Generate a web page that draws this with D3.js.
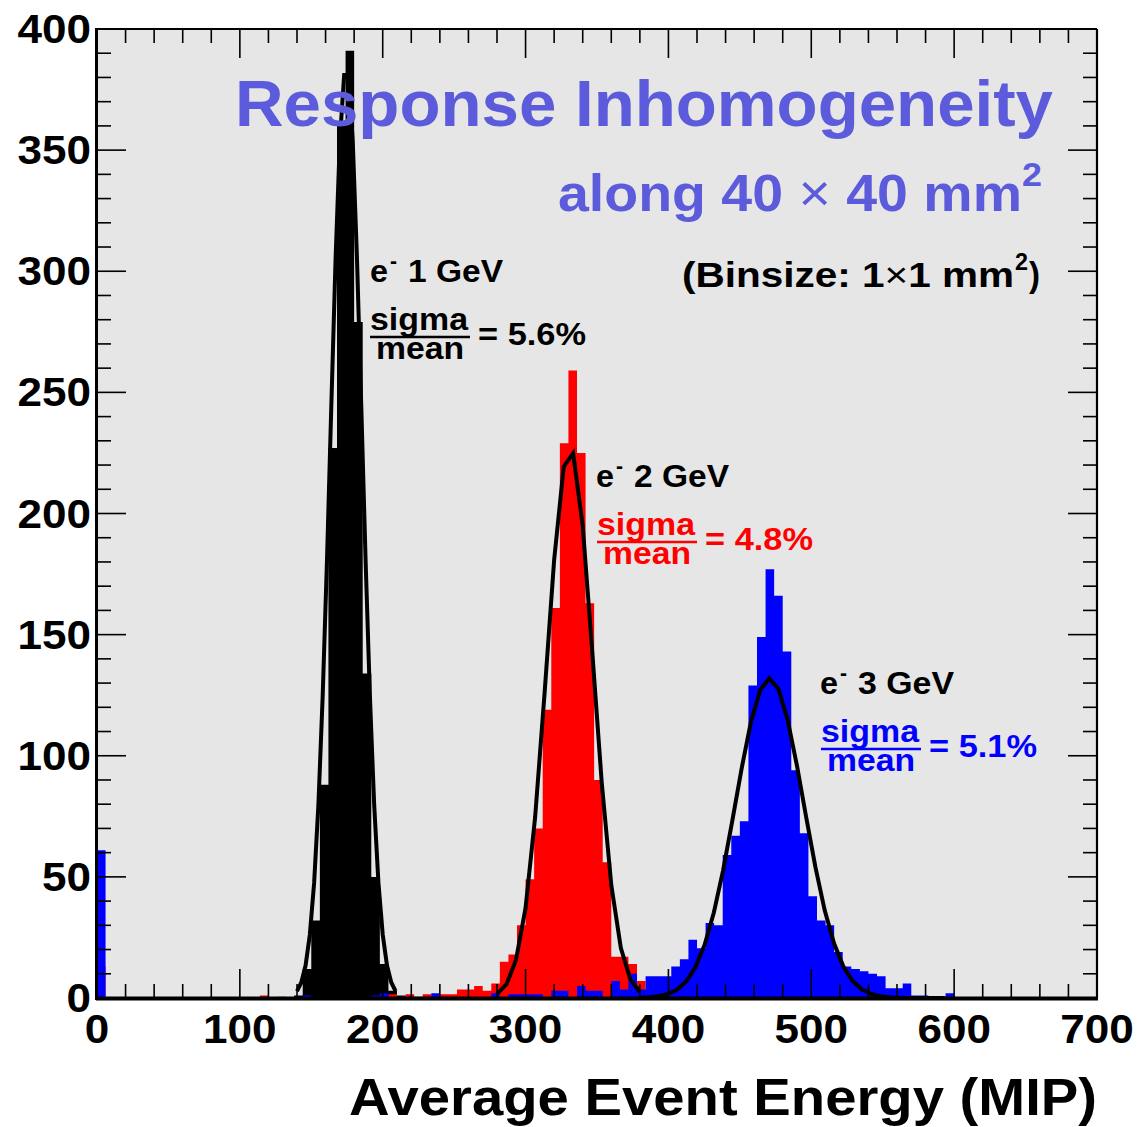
<!DOCTYPE html>
<html>
<head>
<meta charset="utf-8">
<script src="https://cdn.jsdelivr.net/npm/d3@7"></script>
<style>
  html, body { margin: 0; padding: 0; background: #ffffff; }
  svg { display: block; }
  text { font-family: "Liberation Sans", Arial, Helvetica, sans-serif; font-weight: bold; }
</style>
</head>
<body>
<svg id="chart" width="1138" height="1127"></svg>
<script>
// ---------------- DATA ----------------
const binWidth = 6; // MIP per bin, 100 bins from 0 to 600

const blackCounts = [
  0,0,0,0,0,0,0,0,0,0,
  0,0,0,0,0,0,0,0,0,0,
  0,0,0,1,12,32,88,227,362,391,
  279,134,50,14,3,1,0,0,0,0,
  0,0,0,0,0,0,0,0,0,0,
  0,0,0,0,0,0,0,0,0,0,
  0,0,0,0,0,0,0,0,0,0,
  0,0,0,0,0,0,0,0,0,0,
  0,0,0,0,0,0,0,0,0,0,
  0,0,0,0,0,0,0,0,0,0
];

const redCounts = [
  13,0,0,0,0,0,0,0,0,0,
  0,0,0,0,0,0,0,0,0,1,
  0,0.5,0,0,0,0,0,0,0,0,
  0,0,0,0,1.5,0.5,1.5,0.5,1.5,1,
  1.5,1.5,3.5,3.5,5,3,6,15,18,30,
  49,70,119,161,229,259,225,163,90,56,
  17,17,14,7,2,1,0,0,0,0,
  0,0,0,0,0,0,0,0,0,0,
  0,0,0,0,0,0,0,0,0,0,
  0,0,0,0,0,0,0,0,0,0
];

const blueCounts = [
  61,0,0,0,0,0,0,0,0,0,
  0,0,0,0,0,0,0,0,0,0,
  0,0,0,0,1,0,0,0,0,0,
  0,0,1,2,0,0,0,0,0,2,
  0,0,0,0,0,0,2,0,1.5,1.5,
  1.5,1.5,0,3,3,0,5,3,3,0,
  7,3.5,10,3.5,9,9,9,13,16,24,
  20.5,31,30,59,67,73,129,149,177,166,
  143,94,68,42,32,30,19,13,12,11,
  10,9,4,4,6,1,1,0.5,0.5,2
];

// Fit curves
const blackFitX = [140,143,146,149,152,155,158,161,164,167,170,173,176,179,182,185,188,191,194,197,200,203,206,209];
const blackFitY = [2.8,6.4,13.4,26.2,47.6,80,125,181,244,305,354,381,381,354,305,244,181,125,80,47.6,26.2,13.4,6.4,2.8];

const redFitX = [280,286.7,293.3,300,306.7,313.3,320,326.7,333.3,340,346.7,353.3,360,366.7,373.3,380];
const redFitY = [1.7,5.7,15.7,37.2,74.7,125.8,180.8,219.3,224.8,194.9,142.8,89,46.6,20.6,7.8,2.5];

const blueFitX = [380,386.5,392.9,399.4,405.9,412.4,418.8,425.3,431.8,438.2,444.7,451.2,457.6,464.1,470.6,477.1,483.5,490,496.5,502.9,509.4,515.9,522.4,528.8,535.3,541.8,548.2,554.7,561.2,567.6,574.1,580.6,587.1,593.5];
const blueFitY = [0.1,0.3,0.7,1.6,3.4,6.8,12.6,21.9,35.3,52.5,73.1,94.6,113.5,127,132,127.5,114.7,95.8,74.4,54,36.2,22.6,13.1,7.1,3.6,1.7,0.7,0.3,0.1,0,0,0,0,0];

const xTickLabels = [0,100,200,300,400,500,600,700];
const yTickLabels = [0,50,100,150,200,250,300,350,400];

// ---------------- LAYOUT ----------------
const L = 97, R = 1097, T = 29, B = 998;
const svg = d3.select("#chart");
const x = d3.scaleLinear().domain([0,700]).range([L,R]);
const y = d3.scaleLinear().domain([0,400]).range([B,T]);

svg.append("rect").attr("x",0).attr("y",0).attr("width",1138).attr("height",1127).attr("fill","#ffffff");
svg.append("rect").attr("x",L).attr("y",T).attr("width",R-L).attr("height",B-T).attr("fill","#e6e6e6");

svg.append("clipPath").attr("id","plotclip").append("rect")
  .attr("x",L).attr("y",T).attr("width",R-L).attr("height",B-T);

const plot = svg.append("g").attr("clip-path","url(#plotclip)");

function histPoints(counts){
  const pts = counts.map((v,i)=>({e:i*binWidth, v:v}));
  pts.push({e:counts.length*binWidth, v:0});
  return pts;
}
const histArea = d3.area()
  .curve(d3.curveStepAfter)
  .x(d=>x(d.e))
  .y0(y(0))
  .y1(d=>y(d.v));

function drawHist(counts,color){
  plot.append("path").datum(histPoints(counts))
    .attr("d",histArea).attr("fill",color).attr("stroke","none");
}

// ticks
const tickG = svg.append("g").attr("stroke","#000").attr("stroke-width",1.6);
function drawTicks(){
  d3.range(0,701,20).forEach(v=>{
    const len = (v%100===0)?29:14;
    tickG.append("line").attr("x1",x(v)).attr("x2",x(v)).attr("y1",B).attr("y2",B-len);
    tickG.append("line").attr("x1",x(v)).attr("x2",x(v)).attr("y1",T).attr("y2",T+len);
  });
  d3.range(0,401,10).forEach(v=>{
    const len = (v%50===0)?29:14;
    tickG.append("line").attr("x1",L).attr("x2",L+len).attr("y1",y(v)).attr("y2",y(v));
    tickG.append("line").attr("x1",R).attr("x2",R-len).attr("y1",y(v)).attr("y2",y(v));
  });
}

drawHist(blackCounts,"#000000");
drawTicks();
drawHist(redCounts,"#ff0000");
drawHist(blueCounts,"#0000ff");

const fitLine = d3.line().x(d=>x(d[0])).y(d=>y(d[1]));
function drawFit(xs,ys){
  plot.append("path").datum(xs.map((v,i)=>[v,ys[i]]))
    .attr("d",fitLine).attr("fill","none").attr("stroke","#000")
    .attr("stroke-width",4).attr("stroke-linejoin","miter");
}
drawFit(blackFitX,blackFitY);
drawFit(redFitX,redFitY);
drawFit(blueFitX,blueFitY);

// frame
svg.append("line").attr("x1",L).attr("x2",R).attr("y1",T).attr("y2",T).attr("stroke","#000").attr("stroke-width",2.2);
svg.append("line").attr("x1",R).attr("x2",R).attr("y1",T).attr("y2",B).attr("stroke","#000").attr("stroke-width",2.2);
svg.append("line").attr("x1",L-1).attr("x2",R+1).attr("y1",B+0.5).attr("y2",B+0.5).attr("stroke","#000").attr("stroke-width",4);
svg.append("line").attr("x1",L-0.5).attr("x2",L-0.5).attr("y1",T-1).attr("y2",B+2).attr("stroke","#000").attr("stroke-width",3);

// helper: text stretched to a measured width
function txt(parent,x0,yb,str,size,color,anchor,width){
  const t = parent.append("text").attr("x",x0).attr("y",yb)
    .attr("font-size",size).attr("fill",color).attr("text-anchor",anchor||"start").text(str);
  if(width){ t.attr("textLength",width).attr("lengthAdjust","spacingAndGlyphs"); }
  return t;
}

// axis labels
const axG = svg.append("g");
xTickLabels.forEach(d=>{
  txt(axG,x(d),1043,String(d),41,"#000","middle",String(d).length*24.5);
});
yTickLabels.forEach(d=>{
  txt(axG,91,y(d)+14,String(d),41,"#000","end",String(d).length*24.5);
});
txt(svg,1097,1115,"Average Event Energy (MIP)",52,"#000","end",748);

// titles
const titleColor = "#5b5bdc";
txt(svg,1053,126,"Response Inhomogeneity",64,titleColor,"end",818);

const t2 = svg.append("text").attr("x",558).attr("y",211).attr("font-size",52).attr("fill",titleColor)
  .attr("textLength",464).attr("lengthAdjust","spacingAndGlyphs");
t2.append("tspan").text("along 40 ");
t2.append("tspan").attr("font-weight","normal").text("\u00D7");
t2.append("tspan").text(" 40 mm");
txt(svg,1022,186,"2",34,titleColor,"start",20);

const t3 = svg.append("text").attr("x",682).attr("y",287).attr("font-size",35).attr("fill","#000")
  .attr("textLength",332).attr("lengthAdjust","spacingAndGlyphs");
t3.append("tspan").text("(Binsize: 1");
t3.append("tspan").attr("font-weight","normal").text("\u00D7");
t3.append("tspan").text("1 mm");
txt(svg,1015,270,"2",23,"#000","start",13);
txt(svg,1029,287,")",35,"#000","start",11);

// energy labels
function energyLabel(x0,yb,label,width){
  txt(svg,x0,yb,"e",31,"#000","start",18);
  txt(svg,x0+20,yb-14,"-",22,"#000","start",7);
  txt(svg,x0+38,yb,label,31,"#000","start",width);
}
function fracLabel(x0,yc,color,val){
  txt(svg,x0,yc-7,"sigma",31,color,"start",98);
  svg.append("line").attr("x1",x0).attr("x2",x0+100).attr("y1",yc).attr("y2",yc).attr("stroke",color).attr("stroke-width",2.5);
  txt(svg,x0+6,yc+22,"mean",31,color,"start",88);
  txt(svg,x0+108,yc+8,"= "+val,31,color,"start",108);
}
energyLabel(370,282,"1 GeV",95);
fracLabel(370,337,"#000","5.6%");
energyLabel(596,487,"2 GeV",95);
fracLabel(597,542,"#ff0000","4.8%");
energyLabel(820,694,"3 GeV",96);
fracLabel(821,749,"#0000ff","5.1%");
</script>
</body>
</html>
